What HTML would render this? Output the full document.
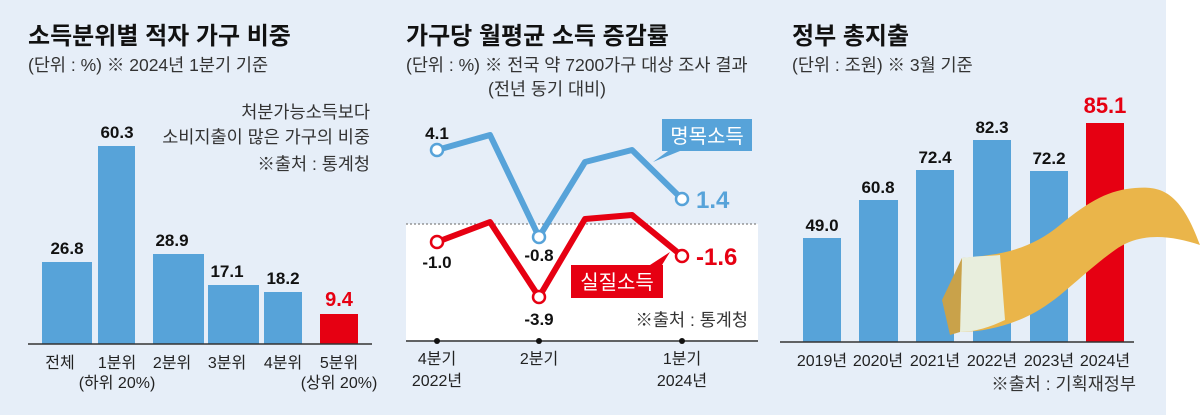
<!DOCTYPE html>
<html><head><meta charset="utf-8"><style>
body{margin:0;width:1200px;height:415px;overflow:hidden;background:#fff}
svg{display:block;font-family:"Liberation Sans","Noto Sans CJK KR",sans-serif}
.t{font-weight:bold;font-size:24px;fill:#111}
.s{font-size:17.5px;fill:#333}
.v{font-weight:bold;font-size:17px;fill:#111;text-anchor:middle}
.x{font-size:16px;fill:#222;text-anchor:middle}
</style></head><body>
<svg width="1200" height="415" viewBox="0 0 1200 415">
<rect x="0" y="0" width="1166" height="415" fill="#e6eef8"/>
<!-- Left -->
<text x="28" y="44" class="t">소득분위별 적자 가구 비중</text>
<text x="28" y="71" class="s">(단위 : %) ※ 2024년 1분기 기준</text>
<text x="370" y="118" class="s" text-anchor="end" font-size="17">처분가능소득보다</text>
<text x="370" y="143" class="s" text-anchor="end" font-size="17">소비지출이 많은 가구의 비중</text>
<text x="370" y="170" class="s" text-anchor="end" font-size="15">※출처 : 통계청</text>
<g fill="#57a3d9">
<rect x="42" y="262" width="50" height="82"/>
<rect x="98" y="146" width="37" height="198"/>
<rect x="153" y="254" width="51" height="90"/>
<rect x="208" y="285" width="51" height="59"/>
<rect x="264" y="292" width="38" height="52"/>
</g>
<rect x="320" y="314" width="38" height="30" fill="#e60012"/>
<line x1="28" y1="344" x2="372" y2="344" stroke="#333" stroke-width="1.5"/>
<text x="67" y="254" class="v">26.8</text>
<text x="117" y="138" class="v">60.3</text>
<text x="172" y="246" class="v">28.9</text>
<text x="227" y="277" class="v">17.1</text>
<text x="283" y="284" class="v">18.2</text>
<text x="339" y="306" class="v" style="fill:#e60012;font-size:20px">9.4</text>
<text x="60" y="368" class="x">전체</text>
<text x="117" y="368" class="x">1분위</text>
<text x="117" y="388" class="x">(하위 20%)</text>
<text x="172" y="368" class="x">2분위</text>
<text x="227" y="368" class="x">3분위</text>
<text x="283" y="368" class="x">4분위</text>
<text x="339" y="368" class="x">5분위</text>
<text x="339" y="388" class="x">(상위 20%)</text>
<!-- Middle -->
<text x="406" y="44" class="t">가구당 월평균 소득 증감률</text>
<text x="406" y="71" class="s">(단위 : %) ※ 전국 약 7200가구 대상 조사 결과</text>
<text x="488" y="95" class="s">(전년 동기 대비)</text>
<rect x="406" y="224" width="352" height="116" fill="#fff"/>
<line x1="406" y1="224" x2="758" y2="224" stroke="#666" stroke-dasharray="2,2"/>
<line x1="406" y1="341" x2="758" y2="341" stroke="#333" stroke-width="1.5"/>
<g fill="#111"><circle cx="437" cy="341" r="3"/><circle cx="539" cy="341" r="3"/><circle cx="682" cy="341" r="3"/></g>
<polyline points="437,150 490,135 539,237 585,162 632,150 682,199" fill="none" stroke="#57a3d9" stroke-width="6" stroke-linejoin="round"/>
<polyline points="437,242 490,222 539,297 585,219 632,215 682,256" fill="none" stroke="#e60012" stroke-width="6" stroke-linejoin="round"/>
<g stroke-width="2.5" fill="#fff">
<circle cx="437" cy="150" r="6" stroke="#57a3d9"/><circle cx="539" cy="237" r="6" stroke="#57a3d9"/><circle cx="682" cy="199" r="6" stroke="#57a3d9"/>
<circle cx="437" cy="242" r="6" stroke="#e60012"/><circle cx="539" cy="297" r="6" stroke="#e60012"/><circle cx="682" cy="256" r="6" stroke="#e60012"/>
</g>
<text x="437" y="139" class="v">4.1</text>
<text x="437" y="268" class="v">-1.0</text>
<text x="539" y="261" class="v">-0.8</text>
<text x="539" y="325" class="v">-3.9</text>
<text x="696" y="208" font-size="24" font-weight="bold" fill="#57a3d9">1.4</text>
<text x="696" y="265" font-size="24" font-weight="bold" fill="#e60012">-1.6</text>
<rect x="662" y="119" width="90" height="32" fill="#57a3d9"/>
<polygon points="668,151 680,151 653,162" fill="#57a3d9"/>
<text x="707" y="143" font-size="20" fill="#fff" text-anchor="middle">명목소득</text>
<rect x="571" y="265" width="92" height="33" fill="#e60012"/>
<polygon points="650,265 662,265 670,252" fill="#e60012"/>
<text x="617" y="289" font-size="20" fill="#fff" text-anchor="middle">실질소득</text>
<text x="748" y="326" class="s" text-anchor="end" font-size="15">※출처 : 통계청</text>
<text x="437" y="364" class="x">4분기</text>
<text x="437" y="386" class="x">2022년</text>
<text x="539" y="364" class="x">2분기</text>
<text x="682" y="364" class="x">1분기</text>
<text x="682" y="386" class="x">2024년</text>
<!-- Right -->
<text x="792" y="44" class="t">정부 총지출</text>
<text x="792" y="71" class="s">(단위 : 조원) ※ 3월 기준</text>
<g fill="#57a3d9">
<rect x="803" y="238" width="38" height="104"/>
<rect x="859" y="200" width="39" height="142"/>
<rect x="916" y="170" width="38" height="172"/>
<rect x="973" y="140" width="38" height="202"/>
<rect x="1030" y="171" width="38" height="171"/>
</g>
<rect x="1086" y="123" width="38" height="219" fill="#e60012"/>
<path d="M962,258 C1000,255 1030,250 1060,225 C1090,200 1110,190 1135,188 C1160,186 1180,190 1200,245 C1170,235 1140,232 1115,250 C1080,275 1060,300 1030,315 C1010,325 985,332 960,332 Z" fill="#eab54a"/>
<path d="M962,258 C975,256 990,256 1000,255 L1005,320 C990,327 975,332 960,332 Z" fill="#e8eedd"/>
<path d="M942,300 L962,258 L960,332 L950,335 Z" fill="#c9a24a"/>
<line x1="780" y1="342" x2="1134" y2="342" stroke="#333" stroke-width="1.5"/>
<text x="822" y="231" class="v">49.0</text>
<text x="878" y="193" class="v">60.8</text>
<text x="935" y="163" class="v">72.4</text>
<text x="992" y="133" class="v">82.3</text>
<text x="1049" y="164" class="v">72.2</text>
<text x="1105" y="113" class="v" style="fill:#e60012;font-size:22px">85.1</text>
<text x="822" y="366" class="x">2019년</text>
<text x="878" y="366" class="x">2020년</text>
<text x="935" y="366" class="x">2021년</text>
<text x="992" y="366" class="x">2022년</text>
<text x="1049" y="366" class="x">2023년</text>
<text x="1105" y="366" class="x">2024년</text>
<text x="1136" y="390" class="s" text-anchor="end" font-size="15">※출처 : 기획재정부</text>
</svg>
</body></html>
